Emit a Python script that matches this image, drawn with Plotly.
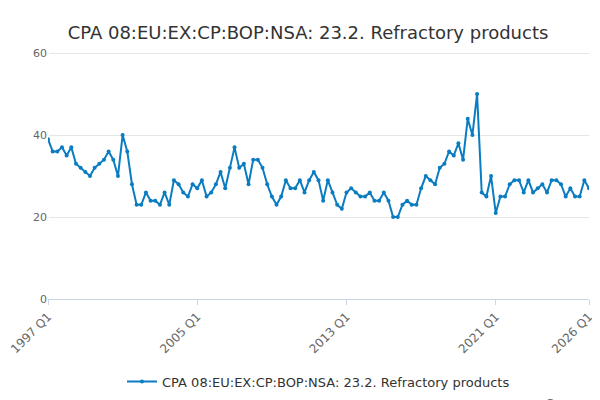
import plotly.graph_objects as go

# quarterly values 1997 Q1 .. 2026 Q1
values = [
    39, 36, 36, 37, 35, 37, 33, 32, 31, 30, 32, 33, 34, 36, 34, 30,
    40, 36, 28, 23, 23, 26, 24, 24, 23, 26, 23, 29, 28, 26, 25, 28,
    27, 29, 25, 26, 28, 31, 27, 32, 37, 32, 33, 28, 34, 34, 32, 28,
    25, 23, 25, 29, 27, 27, 29, 26, 29, 31, 29, 24, 29, 26, 23, 22,
    26, 27, 26, 25, 25, 26, 24, 24, 26, 24, 20, 20, 23, 24, 23, 23,
    27, 30, 29, 28, 32, 33, 36, 35, 38, 34, 44, 40, 50, 26, 25, 30,
    21, 25, 25, 28, 29, 29, 26, 29, 26, 27, 28, 26, 29, 29, 28, 25,
    27, 25, 25, 29, 27,
]
quarters = [f"{1997 + i // 4} Q{i % 4 + 1}" for i in range(len(values))]
tick_labels = ["1997 Q1", "2005 Q1", "2013 Q1", "2021 Q1", "2026 Q1"]

fig = go.Figure()
fig.add_trace(go.Scatter(
    x=list(range(len(values))), y=values, mode="lines+markers",
    name="CPA 08:EU:EX:CP:BOP:NSA: 23.2. Refractory products",
    line=dict(color="#0a7cc1", width=2), marker=dict(size=4),
    text=quarters,
))
fig.update_layout(
    width=600, height=400,
    title=dict(text="CPA 08:EU:EX:CP:BOP:NSA: 23.2. Refractory products",
               x=0.5, y=0.955, font=dict(size=18, color="#333")),
    font=dict(family="DejaVu Sans", color="#666"),
    plot_bgcolor="white", paper_bgcolor="white",
    margin=dict(l=40, r=19, t=41, b=103),
    showlegend=True,
    legend=dict(orientation="h", x=0.5, xanchor="center", y=-0.27,
                font=dict(size=13, color="#333")),
    xaxis=dict(tickvals=[quarters.index(t) for t in tick_labels], ticktext=tick_labels,
               tickangle=-45, range=[0, len(values) - 1], showgrid=False, automargin=False,
               showline=True, linecolor="#ccd6eb", ticks="outside", tickcolor="#ccd6eb",
               tickfont=dict(size=12)),
    yaxis=dict(range=[0, 61], tickvals=[0, 20, 40, 60], gridcolor="#e6e6e6", automargin=False,
               zeroline=False, tickfont=dict(size=11)),
)
fig.add_annotation(text="Source:", xref="paper", yref="paper", x=1.015, y=-0.38,
                   xanchor="right", yanchor="top", showarrow=False,
                   font=dict(size=13, color="#666"))
fig.write_html("out.html")
